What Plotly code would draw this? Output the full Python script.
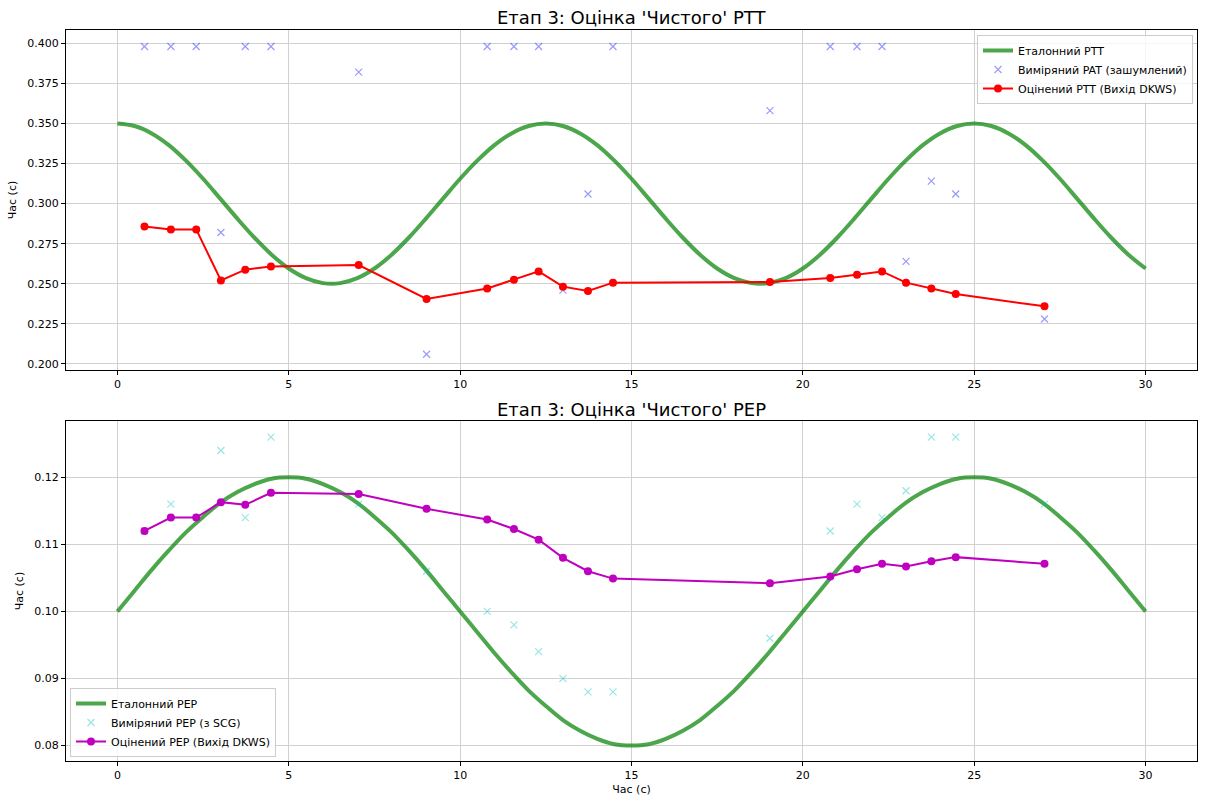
import plotly.graph_objects as go

# ---------------- data ----------------
ref_t = [i * 0.5 for i in range(61)]
ptt_ref = [0.3500, 0.3484, 0.3438, 0.3365, 0.3268, 0.3155, 0.3031, 0.2906, 0.2787, 0.2681,
           0.2595, 0.2535, 0.2504, 0.2504, 0.2535, 0.2595, 0.2681, 0.2787, 0.2906, 0.3031,
           0.3155, 0.3268, 0.3365, 0.3438, 0.3484, 0.3500,
           0.3484, 0.3438, 0.3365, 0.3268, 0.3155, 0.3031, 0.2906, 0.2787, 0.2681,
           0.2595, 0.2535, 0.2504, 0.2504, 0.2535, 0.2595, 0.2681, 0.2787, 0.2906, 0.3031,
           0.3155, 0.3268, 0.3365, 0.3438, 0.3484, 0.3500,
           0.3484, 0.3438, 0.3365, 0.3268, 0.3155, 0.3031, 0.2906, 0.2787, 0.2681, 0.2595]
pep_ref = [0.1000, 0.1031, 0.1062, 0.1091, 0.1118, 0.1141, 0.1162, 0.1178, 0.1190, 0.1198,
           0.1200, 0.1198, 0.1190, 0.1178, 0.1162, 0.1141, 0.1118, 0.1091, 0.1062, 0.1031,
           0.1000, 0.0969, 0.0938, 0.0909, 0.0882, 0.0859, 0.0838, 0.0822, 0.0810, 0.0802,
           0.0800, 0.0802, 0.0810, 0.0822, 0.0838, 0.0859, 0.0882, 0.0909, 0.0938, 0.0969,
           0.1000, 0.1031, 0.1062, 0.1091, 0.1118, 0.1141, 0.1162, 0.1178, 0.1190, 0.1198,
           0.1200, 0.1198, 0.1190, 0.1178, 0.1162, 0.1141, 0.1118, 0.1091, 0.1062, 0.1031, 0.1000]

beat_t = [0.79, 1.56, 2.30, 3.02, 3.73, 4.48, 7.04, 9.02, 10.79, 11.57, 12.29,
          13.00, 13.73, 14.46, 19.04, 20.80, 21.58, 22.31, 23.01, 23.75, 24.46, 27.05]
pat_meas = [0.398, 0.398, 0.398, 0.282, 0.398, 0.398, 0.382, 0.206, 0.398, 0.398, 0.398,
            0.246, 0.306, 0.398, 0.358, 0.398, 0.398, 0.398, 0.264, 0.314, 0.306, 0.228]
ptt_est = [0.2857, 0.2839, 0.2839, 0.2521, 0.2588, 0.2608, 0.2617, 0.2405, 0.2471, 0.2525, 0.2577,
           0.2482, 0.2455, 0.2507, 0.2511, 0.2536, 0.2556, 0.2577, 0.2507, 0.2471, 0.2436, 0.2359]
pep_meas = [0.112, 0.116, 0.114, 0.124, 0.114, 0.126, 0.116, 0.106, 0.100, 0.098, 0.094,
            0.090, 0.088, 0.088, 0.096, 0.112, 0.116, 0.114, 0.118, 0.126, 0.126, 0.116]
pep_est = [0.1120, 0.1140, 0.1140, 0.1163, 0.1159, 0.1177, 0.1175, 0.1153, 0.1137, 0.1123, 0.1107,
           0.1080, 0.1060, 0.1049, 0.1042, 0.1052, 0.1063, 0.1071, 0.1067, 0.1075, 0.1081, 0.1071]

x_ticks = [0, 5, 10, 15, 20, 25, 30]
ptt_ticks = [0.200, 0.225, 0.250, 0.275, 0.300, 0.325, 0.350, 0.375, 0.400]
pep_ticks = [0.08, 0.09, 0.10, 0.11, 0.12]

# ---------------- figure ----------------
W, H = 1206, 798
L, R, T, B = 66, 9, 30, 37
PW, PH = W - L - R, H - T - B
FONT = "DejaVu Sans"
GREEN = "rgba(0,128,0,0.7)"


def py(pix):  # pixel row from top -> paper y
    return (H - B - pix) / PH


def px(pix):  # pixel column from left -> paper x
    return (pix - L) / PW


fig = go.Figure()

# top panel
fig.add_trace(go.Scatter(x=ref_t, y=ptt_ref, mode="lines", line=dict(color=GREEN, width=4, shape="spline"),
                         name="Еталонний PTT", xaxis="x", yaxis="y", legend="legend"))
fig.add_trace(go.Scatter(x=beat_t, y=pat_meas, mode="markers",
                         marker=dict(symbol="x-thin", size=7, line=dict(color="rgba(0,0,255,0.4)", width=1.2)),
                         name="Виміряний PAT (зашумлений)", xaxis="x", yaxis="y", legend="legend"))
fig.add_trace(go.Scatter(x=beat_t, y=ptt_est, mode="lines+markers", line=dict(color="#ff0000", width=2),
                         marker=dict(color="#ff0000", size=8),
                         name="Оцінений PTT (Вихід DKWS)", xaxis="x", yaxis="y", legend="legend"))

# bottom panel
fig.add_trace(go.Scatter(x=ref_t, y=pep_ref, mode="lines", line=dict(color=GREEN, width=4, shape="spline"),
                         name="Еталонний PEP", xaxis="x2", yaxis="y2", legend="legend2"))
fig.add_trace(go.Scatter(x=beat_t, y=pep_meas, mode="markers",
                         marker=dict(symbol="x-thin", size=7, line=dict(color="rgba(0,191,191,0.4)", width=1.2)),
                         name="Виміряний PEP (з SCG)", xaxis="x2", yaxis="y2", legend="legend2"))
fig.add_trace(go.Scatter(x=beat_t, y=pep_est, mode="lines+markers", line=dict(color="#bf00bf", width=2),
                         marker=dict(color="#bf00bf", size=8),
                         name="Оцінений PEP (Вихід DKWS)", xaxis="x2", yaxis="y2", legend="legend2"))

top_dom = [py(370), 1.0]
bot_dom = [0.0, py(421)]

axis_common = dict(showline=True, linecolor="#000000", linewidth=1, mirror=True,
                   ticks="outside", ticklen=4, tickcolor="#000000",
                   showgrid=True, gridcolor="#d0d0d0", gridwidth=1, zeroline=False,
                   automargin=False,
                   tickfont=dict(family=FONT, size=11, color="#000000"))

fig.update_layout(
    width=W, height=H,
    margin=dict(l=L, r=R, t=T, b=B),
    paper_bgcolor="white", plot_bgcolor="white",
    font=dict(family=FONT, color="#000000"),
    xaxis=dict(domain=[0, 1], anchor="y", range=[-1.5, 31.5], tickvals=x_ticks, **axis_common),
    yaxis=dict(domain=top_dom, anchor="x", range=[0.1962, 0.4083], tickvals=ptt_ticks, tickformat=".3f",
               title=dict(text="Час (с)", font=dict(family=FONT, size=11), standoff=8), **axis_common),
    xaxis2=dict(domain=[0, 1], anchor="y2", range=[-1.5, 31.5], tickvals=x_ticks,
                title=dict(text="Час (с)", font=dict(family=FONT, size=11), standoff=4), **axis_common),
    yaxis2=dict(domain=bot_dom, anchor="x2", range=[0.0777, 0.1284], tickvals=pep_ticks, tickformat=".2f",
                title=dict(text="Час (с)", font=dict(family=FONT, size=11), standoff=8), **axis_common),
    legend=dict(x=px(1193), y=py(35), xanchor="right", yanchor="top", bgcolor="rgba(255,255,255,0.8)",
                bordercolor="#cccccc", borderwidth=1, font=dict(family=FONT, size=11),
                tracegroupgap=0, itemwidth=30),
    legend2=dict(x=px(70), y=py(757), xanchor="left", yanchor="bottom", bgcolor="rgba(255,255,255,0.8)",
                 bordercolor="#cccccc", borderwidth=1, font=dict(family=FONT, size=11),
                 tracegroupgap=0, itemwidth=30),
    annotations=[
        dict(text="Етап 3: Оцінка 'Чистого' PTT", x=0.5, y=py(18), xref="paper", yref="paper",
             showarrow=False, font=dict(family=FONT, size=18), xanchor="center", yanchor="middle"),
        dict(text="Етап 3: Оцінка 'Чистого' PEP", x=0.5, y=py(409), xref="paper", yref="paper",
             showarrow=False, font=dict(family=FONT, size=18), xanchor="center", yanchor="middle"),
    ],
)

fig.write_html("out.html", config={"displayModeBar": False},
               post_script="document.body.style.margin='0';")
